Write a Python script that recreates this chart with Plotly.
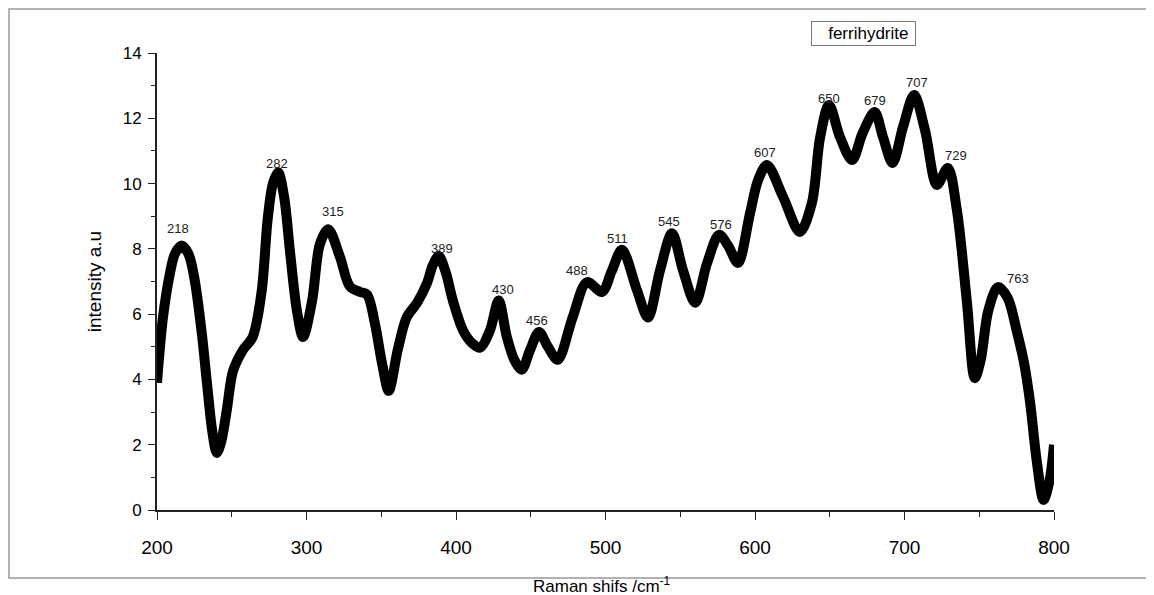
import plotly.graph_objects as go

# Raman shift (cm^-1) and intensity (a.u.)
shift = [200, 204, 208.7, 212, 216.5, 221, 225, 230, 233.4, 237, 240, 243, 246.8, 250.8,
         257.5, 264, 270, 274, 277.5, 281, 285, 289, 293.6, 297.7, 303.7, 309, 314.5,
         322.4, 329, 335.8, 340.5, 345.8, 350.5, 355, 361, 367, 374, 380.6, 384.5, 388.5,
         393, 398, 404.7, 411, 416, 422.7, 428.5, 434, 439, 444, 449.5, 455.5, 461.5, 468,
         478, 487.6, 497.7, 504, 511, 521, 528.4, 536.5, 544.5, 551.8, 560, 568, 576, 582,
         588.6, 596.7, 602, 608, 618.7, 630, 638, 643.5, 649.5, 656.8, 664.9, 672, 680,
         685.6, 692, 699, 706.4, 713.7, 721.7, 729, 735, 741.8, 747, 751, 756, 762.5, 769,
         775, 780, 784, 788.6, 793, 797, 800]
intensity = [3.9, 5.9, 7.26, 7.85, 8.1, 7.85, 7.1, 5.4, 3.9, 2.4, 1.75, 2.1, 3.1, 4.25,
             4.9, 5.3, 6.7, 8.9, 10.0, 10.35, 9.6, 7.9, 6.1, 5.3, 6.4, 8.15, 8.6,
             7.75, 6.85, 6.68, 6.6, 5.7, 4.5, 3.65, 4.9, 5.9, 6.35, 6.95, 7.5, 7.78,
             7.3, 6.4, 5.5, 5.1, 4.97, 5.5, 6.42, 5.3, 4.6, 4.3, 4.9, 5.45, 5.0, 4.6,
             5.9, 6.98, 6.68, 7.3, 7.97, 6.74, 5.9, 7.35, 8.48, 7.35, 6.35, 7.57, 8.43, 8.1,
             7.57, 9.1, 10.1, 10.57, 9.6, 8.52, 9.4, 11.4, 12.41, 11.43, 10.72, 11.55, 12.19,
             11.43, 10.63, 11.73, 12.71, 11.64, 9.96, 10.48, 9.2, 6.34, 4.04, 4.6, 6.1, 6.83, 6.5,
             5.5, 4.5, 3.3, 1.45, 0.31, 0.9, 2.0]

# Peak labels and their positions
peak_labels = ["218", "282", "315", "389", "430", "456", "488", "511", "545", "576",
               "607", "650", "679", "707", "729", "763"]
label_x = [214.0, 280.3, 317.7, 390.6, 431.4, 454.2, 480.9, 507.7, 542.5, 577.3,
           606.7, 649.5, 680.5, 708.2, 734.2, 776.0]
label_y = [8.61, 10.60, 9.13, 8.0, 6.74, 5.82, 7.35, 8.33, 8.85, 8.76,
           10.95, 12.62, 12.54, 13.1, 10.85, 7.1]

x_ticks = [200, 300, 400, 500, 600, 700, 800]
y_ticks = [0, 2, 4, 6, 8, 10, 12, 14]

FONT = "Liberation Sans, Arial, sans-serif"

# page has an 8px body margin; figure laid out so the plot area matches the reference
W, H = 1138, 590
L, R, T, B = 149, W - 1046, 45, H - 502
PW, PH = 1046 - L, 502 - T

fig = go.Figure()
fig.add_trace(go.Scatter(
    x=shift, y=intensity, mode="lines",
    line=dict(color="black", width=10, shape="spline", smoothing=0.9),
    name="ferrihydrite", showlegend=False, hoverinfo="skip",
))

annotations = []
for t, lx, ly in zip(peak_labels, label_x, label_y):
    annotations.append(dict(x=lx, y=ly, xref="x", yref="y", text=t, showarrow=False,
                            font=dict(family=FONT, size=13, color="#222"),
                            xanchor="center", yanchor="middle"))

# legend-like boxed label
annotations.append(dict(x=(855 - L) / PW, y=(502 - 26) / PH, xref="paper", yref="paper",
                        text="   ferrihydrite ", showarrow=False,
                        font=dict(family=FONT, size=17, color="black"),
                        bordercolor="#777", borderwidth=1, borderpad=2,
                        bgcolor="white", xanchor="center", yanchor="middle"))
# x-axis title
annotations.append(dict(x=(594 - L) / PW, y=(502 - 577) / PH, xref="paper", yref="paper",
                        text="Raman shifs /cm<sup>-1</sup>", showarrow=False,
                        font=dict(family=FONT, size=17, color="black"),
                        xanchor="center", yanchor="middle"))

fig.update_layout(
    width=W, height=H,
    margin=dict(l=L, r=R, t=T, b=B),
    paper_bgcolor="white", plot_bgcolor="white",
    font=dict(family=FONT, size=16, color="black"),
    annotations=annotations,
    shapes=[dict(type="rect", xref="paper", yref="paper",
                 x0=(1 - L) / PW, x1=(1139 - L) / PW,
                 y0=(502 - 570) / PH, y1=(502 - 1) / PH,
                 line=dict(color="#999", width=1.5), fillcolor="rgba(0,0,0,0)",
                 layer="below")],
)
fig.update_xaxes(
    range=[200, 800], tickvals=x_ticks, ticktext=[str(v) for v in x_ticks],
    showline=True, linecolor="#222", linewidth=2, showgrid=False, zeroline=False,
    ticks="outside", ticklen=8, tickwidth=1.2, tickcolor="#222", ticklabelstandoff=11,
    minor=dict(dtick=50, ticks="outside", ticklen=5, tickcolor="#222", showgrid=False),
    tickfont=dict(family=FONT, size=19, color="black"),
    automargin=False,
)
fig.update_yaxes(
    range=[0, 14], tickvals=y_ticks, ticktext=[str(v) for v in y_ticks],
    showline=True, linecolor="#222", linewidth=2, showgrid=False, zeroline=False,
    ticks="outside", ticklen=7, tickwidth=1.2, tickcolor="#222", ticklabelstandoff=3,
    minor=dict(dtick=1, ticks="outside", ticklen=4, tickcolor="#222", showgrid=False),
    tickfont=dict(family=FONT, size=17, color="black"),
    title=dict(text="intensity a.u", font=dict(family=FONT, size=19, color="black"), standoff=16),
    automargin=False,
)

fig.write_html("out.html")
